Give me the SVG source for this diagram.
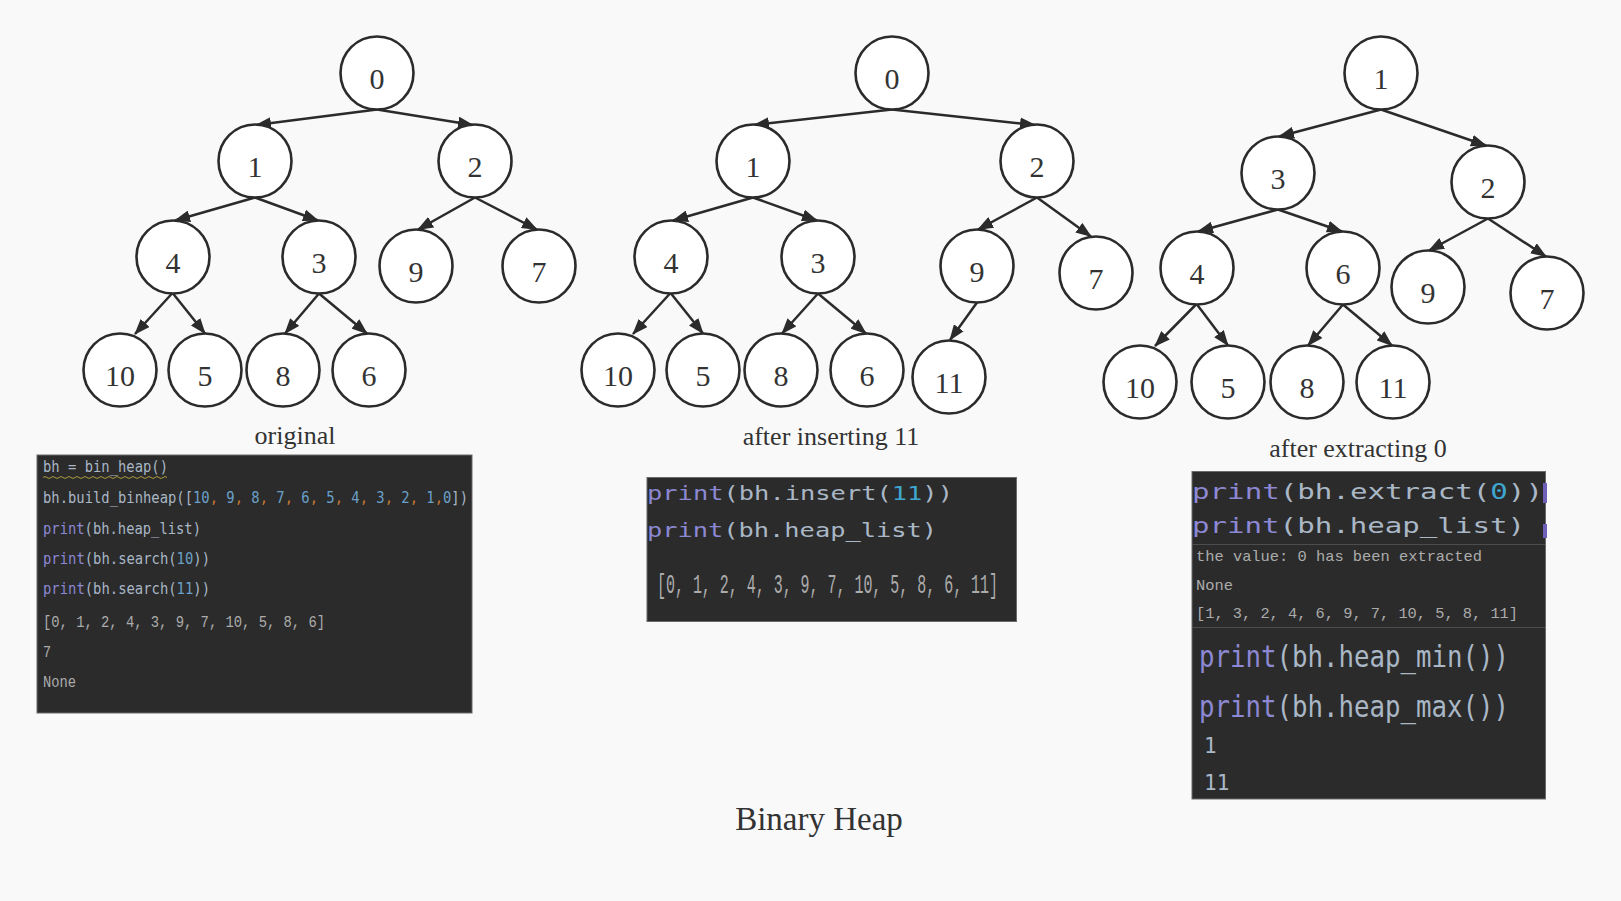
<svg xmlns="http://www.w3.org/2000/svg" width="1621" height="901" viewBox="0 0 1621 901">
<style>
.bg{fill:#f9f9f9}
.node circle{fill:#ffffff;stroke:#2b2b2b;stroke-width:2.6}
.node text{font-family:"Liberation Serif","Times New Roman",serif;font-size:30px;fill:#333333;text-anchor:middle}
.edge{stroke:#2b2b2b;stroke-width:2.5;fill:none;marker-end:url(#arr)}
.cap{font-family:"Liberation Serif","Times New Roman",serif;font-size:26px;fill:#333333;text-anchor:middle}
.title{font-family:"Liberation Serif","Times New Roman",serif;font-size:33px;fill:#333333;text-anchor:middle}
.panel{fill:#2b2b2b;stroke:#6a6a6a;stroke-width:1}
.code{font-family:"DejaVu Sans Mono","Liberation Mono",monospace;fill:#a9b7c6}
.out{font-family:"Liberation Mono","DejaVu Sans Mono",monospace;fill:#ababab}
.kw{fill:#8c88d4}
.num{fill:#6aa0c8}
.cnum{fill:#3fa6d0}
.com{fill:#cc7832}
.sep{stroke:#4d4d4d;stroke-width:1.2}
</style>
<defs>
<marker id="arr" markerUnits="userSpaceOnUse" markerWidth="16" markerHeight="12" viewBox="0 0 16 12" refX="15" refY="6" orient="auto">
<path d="M0,0 L16,6 L0,12 z" fill="#2b2b2b"/>
</marker>
</defs>
<rect class="bg" x="0" y="0" width="1621" height="901"/>

<g id="connectors">
<!-- tree 1 -->
<line class="edge" x1="377" y1="109.5" x2="256" y2="125"/>
<line class="edge" x1="377" y1="109.5" x2="473" y2="125"/>
<line class="edge" x1="255" y1="197.5" x2="175" y2="220.5"/>
<line class="edge" x1="255" y1="197.5" x2="318" y2="220.5"/>
<line class="edge" x1="475" y1="197.5" x2="418" y2="229.5"/>
<line class="edge" x1="475" y1="197.5" x2="537" y2="229.5"/>
<line class="edge" x1="172" y1="293.5" x2="135" y2="334"/>
<line class="edge" x1="173" y1="293.5" x2="205" y2="333.5"/>
<line class="edge" x1="319" y1="293.5" x2="285" y2="333.5"/>
<line class="edge" x1="319" y1="293.5" x2="367" y2="333.5"/>
<!-- tree 2 -->
<line class="edge" x1="892" y1="109.5" x2="754" y2="125"/>
<line class="edge" x1="892" y1="109.5" x2="1035" y2="125"/>
<line class="edge" x1="753" y1="197.5" x2="673" y2="220.5"/>
<line class="edge" x1="753" y1="197.5" x2="817" y2="220.5"/>
<line class="edge" x1="1037" y1="197.5" x2="978" y2="229.5"/>
<line class="edge" x1="1037" y1="197.5" x2="1091" y2="236.5"/>
<line class="edge" x1="670" y1="293.5" x2="633" y2="334"/>
<line class="edge" x1="671" y1="293.5" x2="703" y2="333.5"/>
<line class="edge" x1="818" y1="293.5" x2="782" y2="333.5"/>
<line class="edge" x1="818" y1="293.5" x2="866" y2="333.5"/>
<line class="edge" x1="977" y1="302.5" x2="950" y2="340"/>
<!-- tree 3 -->
<line class="edge" x1="1381" y1="109.5" x2="1279" y2="136.5"/>
<line class="edge" x1="1381" y1="109.5" x2="1486" y2="145.5"/>
<line class="edge" x1="1278" y1="209.5" x2="1198" y2="231.5"/>
<line class="edge" x1="1278" y1="209.5" x2="1342" y2="231.5"/>
<line class="edge" x1="1488" y1="218.5" x2="1429" y2="250.5"/>
<line class="edge" x1="1488" y1="218.5" x2="1546" y2="256.5"/>
<line class="edge" x1="1196" y1="304.5" x2="1155" y2="346"/>
<line class="edge" x1="1197" y1="304.5" x2="1228" y2="345.5"/>
<line class="edge" x1="1343" y1="304.5" x2="1308" y2="345.5"/>
<line class="edge" x1="1343" y1="304.5" x2="1392" y2="345.5"/>
</g>

<!-- tree 1: original -->
<g id="t1-n0" class="node"><circle cx="377" cy="73" r="36.5"/><text x="377" y="89">0</text></g>
<g id="t1-n1" class="node"><circle cx="255" cy="161" r="36.5"/><text x="255" y="177">1</text></g>
<g id="t1-n2" class="node"><circle cx="475" cy="161" r="36.5"/><text x="475" y="177">2</text></g>
<g id="t1-n4" class="node"><circle cx="173" cy="257" r="36.5"/><text x="173" y="273">4</text></g>
<g id="t1-n3" class="node"><circle cx="319" cy="257" r="36.5"/><text x="319" y="273">3</text></g>
<g id="t1-n9" class="node"><circle cx="416" cy="266" r="36.5"/><text x="416" y="282">9</text></g>
<g id="t1-n7" class="node"><circle cx="539" cy="266" r="36.5"/><text x="539" y="282">7</text></g>
<g id="t1-n10" class="node"><circle cx="120" cy="370" r="36.5"/><text x="120" y="386">10</text></g>
<g id="t1-n5" class="node"><circle cx="205" cy="370" r="36.5"/><text x="205" y="386">5</text></g>
<g id="t1-n8" class="node"><circle cx="283" cy="370" r="36.5"/><text x="283" y="386">8</text></g>
<g id="t1-n6" class="node"><circle cx="369" cy="370" r="36.5"/><text x="369" y="386">6</text></g>
<text class="cap" x="295" y="444">original</text>

<!-- tree 2: after inserting 11 -->
<g id="t2-n0" class="node"><circle cx="892" cy="73" r="36.5"/><text x="892" y="89">0</text></g>
<g id="t2-n1" class="node"><circle cx="753" cy="161" r="36.5"/><text x="753" y="177">1</text></g>
<g id="t2-n2" class="node"><circle cx="1037" cy="161" r="36.5"/><text x="1037" y="177">2</text></g>
<g id="t2-n4" class="node"><circle cx="671" cy="257" r="36.5"/><text x="671" y="273">4</text></g>
<g id="t2-n3" class="node"><circle cx="818" cy="257" r="36.5"/><text x="818" y="273">3</text></g>
<g id="t2-n9" class="node"><circle cx="977" cy="266" r="36.5"/><text x="977" y="282">9</text></g>
<g id="t2-n7" class="node"><circle cx="1096" cy="273" r="36.5"/><text x="1096" y="289">7</text></g>
<g id="t2-n10" class="node"><circle cx="618" cy="370" r="36.5"/><text x="618" y="386">10</text></g>
<g id="t2-n5" class="node"><circle cx="703" cy="370" r="36.5"/><text x="703" y="386">5</text></g>
<g id="t2-n8" class="node"><circle cx="781" cy="370" r="36.5"/><text x="781" y="386">8</text></g>
<g id="t2-n6" class="node"><circle cx="867" cy="370" r="36.5"/><text x="867" y="386">6</text></g>
<g id="t2-n11" class="node"><circle cx="949" cy="377" r="36.5"/><text x="949" y="393">11</text></g>
<text class="cap" x="831" y="445">after inserting 11</text>

<!-- tree 3: after extracting 0 -->
<g id="t3-n1" class="node"><circle cx="1381" cy="73" r="36.5"/><text x="1381" y="89">1</text></g>
<g id="t3-n3" class="node"><circle cx="1278" cy="173" r="36.5"/><text x="1278" y="189">3</text></g>
<g id="t3-n2" class="node"><circle cx="1488" cy="182" r="36.5"/><text x="1488" y="198">2</text></g>
<g id="t3-n4" class="node"><circle cx="1197" cy="268" r="36.5"/><text x="1197" y="284">4</text></g>
<g id="t3-n6" class="node"><circle cx="1343" cy="268" r="36.5"/><text x="1343" y="284">6</text></g>
<g id="t3-n9" class="node"><circle cx="1428" cy="287" r="36.5"/><text x="1428" y="303">9</text></g>
<g id="t3-n7" class="node"><circle cx="1547" cy="293" r="36.5"/><text x="1547" y="309">7</text></g>
<g id="t3-n10" class="node"><circle cx="1140" cy="382" r="36.5"/><text x="1140" y="398">10</text></g>
<g id="t3-n5" class="node"><circle cx="1228" cy="382" r="36.5"/><text x="1228" y="398">5</text></g>
<g id="t3-n8" class="node"><circle cx="1307" cy="382" r="36.5"/><text x="1307" y="398">8</text></g>
<g id="t3-n11" class="node"><circle cx="1393" cy="382" r="36.5"/><text x="1393" y="398">11</text></g>
<text class="cap" x="1358" y="457">after extracting 0</text>

<!-- code panel 1 -->
<g id="panel-original">
<rect class="panel" x="37" y="455" width="435" height="258"/>
<text class="code" x="43" y="472" font-size="16.5" textLength="125" lengthAdjust="spacingAndGlyphs">bh = bin_heap()</text>
<path d="M43,477.5 q2,-2 4,0 t4,0 t4,0 t4,0 t4,0 t4,0 t4,0 t4,0 t4,0 t4,0 t4,0 t4,0 t4,0 t4,0 t4,0 t4,0 t4,0 t4,0 t4,0 t4,0 t4,0 t4,0 t4,0 t4,0 t4,0 t4,0 t4,0 t4,0 t4,0 t4,0 t4,0" fill="none" stroke="#a89a3c" stroke-width="1"/>
<text class="code" x="43" y="503" font-size="16.5" textLength="425" lengthAdjust="spacingAndGlyphs">bh.build_binheap([<tspan class="num">10</tspan><tspan class="com">,</tspan> <tspan class="num">9</tspan><tspan class="com">,</tspan> <tspan class="num">8</tspan><tspan class="com">,</tspan> <tspan class="num">7</tspan><tspan class="com">,</tspan> <tspan class="num">6</tspan><tspan class="com">,</tspan> <tspan class="num">5</tspan><tspan class="com">,</tspan> <tspan class="num">4</tspan><tspan class="com">,</tspan> <tspan class="num">3</tspan><tspan class="com">,</tspan> <tspan class="num">2</tspan><tspan class="com">,</tspan> <tspan class="num">1</tspan><tspan class="com">,</tspan><tspan class="num">0</tspan>])</text>
<text class="code" x="43" y="534" font-size="16.5" textLength="158" lengthAdjust="spacingAndGlyphs"><tspan class="kw">print</tspan>(bh.heap_list)</text>
<text class="code" x="43" y="564" font-size="16.5" textLength="167" lengthAdjust="spacingAndGlyphs"><tspan class="kw">print</tspan>(bh.search(<tspan class="num">10</tspan>))</text>
<text class="code" x="43" y="594" font-size="16.5" textLength="167" lengthAdjust="spacingAndGlyphs"><tspan class="kw">print</tspan>(bh.search(<tspan class="num">11</tspan>))</text>
<text class="out" x="43" y="627" font-size="16" textLength="282" lengthAdjust="spacingAndGlyphs">[0, 1, 2, 4, 3, 9, 7, 10, 5, 8, 6]</text>
<text class="out" x="43" y="657" font-size="16" textLength="8" lengthAdjust="spacingAndGlyphs">7</text>
<text class="out" x="43" y="687" font-size="16" textLength="33" lengthAdjust="spacingAndGlyphs">None</text>
</g>

<!-- code panel 2 -->
<g id="panel-insert">
<rect class="panel" x="647" y="477.5" width="369.5" height="144"/>
<text class="code" x="647" y="500" font-size="20" textLength="306" lengthAdjust="spacingAndGlyphs"><tspan class="kw">print</tspan>(bh.insert(<tspan class="cnum">11</tspan>))</text>
<text class="code" x="647" y="537" font-size="20" textLength="290" lengthAdjust="spacingAndGlyphs"><tspan class="kw">print</tspan>(bh.heap_list)</text>
<text class="out" x="657" y="593" font-size="27" textLength="341" lengthAdjust="spacingAndGlyphs">[0, 1, 2, 4, 3, 9, 7, 10, 5, 8, 6, 11]</text>
</g>

<!-- code panel 3 -->
<g id="panel-extract">
<rect class="panel" x="1192" y="471.5" width="353.5" height="327.5"/>
<text class="code" x="1192" y="499" font-size="21" textLength="351" lengthAdjust="spacingAndGlyphs"><tspan class="kw">print</tspan>(bh.extract(<tspan class="cnum">0</tspan>))</text>
<text class="code" x="1192" y="533" font-size="21" textLength="333" lengthAdjust="spacingAndGlyphs"><tspan class="kw">print</tspan>(bh.heap_list)</text>
<rect x="1543" y="483" width="4" height="20" fill="#6f5fb8"/>
<rect x="1543" y="524" width="4" height="14" fill="#6f5fb8"/>
<line class="sep" x1="1192" y1="544.5" x2="1545" y2="544.5"/>
<text class="out" x="1196" y="561" font-size="15" textLength="286" lengthAdjust="spacingAndGlyphs">the value: 0 has been extracted</text>
<text class="out" x="1196" y="590" font-size="15" textLength="37" lengthAdjust="spacingAndGlyphs">None</text>
<text class="out" x="1196" y="618" font-size="15" textLength="322" lengthAdjust="spacingAndGlyphs">[1, 3, 2, 4, 6, 9, 7, 10, 5, 8, 11]</text>
<line class="sep" x1="1192" y1="627.5" x2="1545" y2="627.5"/>
<text class="code" x="1199" y="666.5" font-size="30" textLength="310" lengthAdjust="spacingAndGlyphs"><tspan class="kw">print</tspan>(bh.heap_min())</text>
<text class="code" x="1199" y="716.5" font-size="30" textLength="310" lengthAdjust="spacingAndGlyphs"><tspan class="kw">print</tspan>(bh.heap_max())</text>
<text class="code" x="1204" y="753" font-size="21">1</text>
<text class="code" x="1204" y="790" font-size="21">11</text>
</g>

<text class="title" x="819" y="830">Binary Heap</text>
</svg>
